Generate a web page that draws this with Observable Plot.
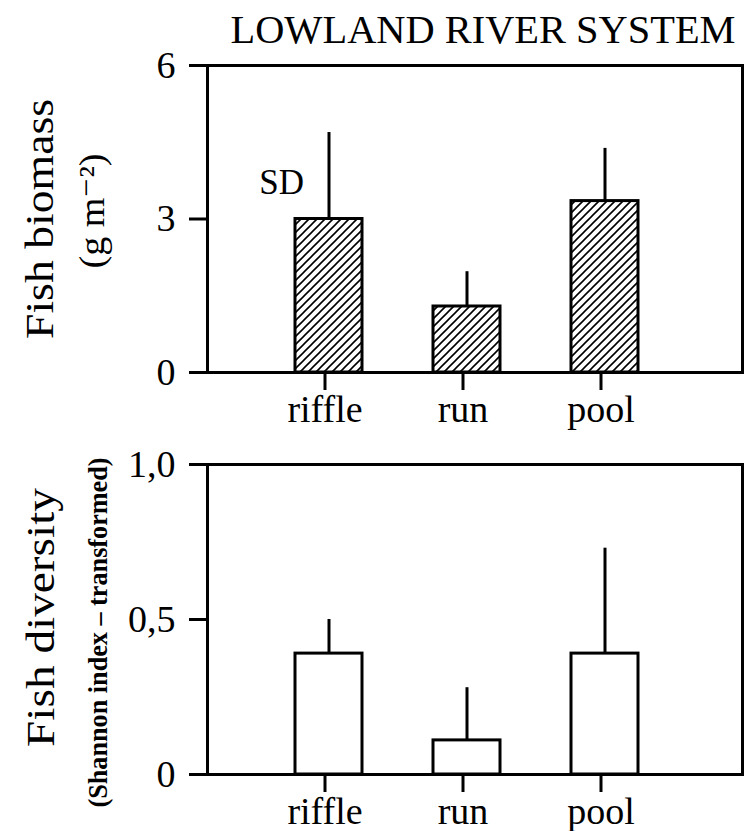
<!DOCTYPE html>
<html><head><meta charset="utf-8">
<script src="https://cdn.jsdelivr.net/npm/d3@7"></script>
<script src="https://cdn.jsdelivr.net/npm/@observablehq/plot@0.6"></script>
<style>
html,body{margin:0;padding:0;background:#fff;}
#chart{width:748px;height:831px;position:relative;overflow:hidden;}
#chart svg{display:block;overflow:visible;}
</style></head><body><div id="chart"></div>
<script>
const chartTitle = "LOWLAND RIVER SYSTEM";
const habitats = ["riffle", "run", "pool"];
const biomassMean = [3.0, 1.29, 3.35];
const biomassSD = [1.69, 0.68, 1.03];
const diversityMean = [0.39, 0.11, 0.39];
const diversitySD = [0.11, 0.17, 0.34];
const biomassTicks = [0, 3, 6];
const diversityTicks = [0, 0.5, 1];
const biomassLabel = "Fish biomass";
const biomassUnit = "(g m\u207B\u00B2)";
const diversityLabel = "Fish diversity";
const diversityUnit = "(Shannon index \u2013 transformed)";
const sdLabel = "SD";

const FONT = "'Liberation Serif', 'DejaVu Serif', serif";
const biomass = habitats.map((h, i) => ({habitat: h, mean: biomassMean[i], sd: biomassSD[i]}));
const diversity = habitats.map((h, i) => ({habitat: h, mean: diversityMean[i], sd: diversitySD[i]}));

const xScale = {type: "band", domain: habitats, range: [223, 710], padding: 0.516};

function panel({data, height, marginTop, marginBottom, domain, ticks, fmt, fill, extra}) {
  return Plot.plot({
    width: 748, height, marginTop, marginBottom, marginLeft: 207, marginRight: 6,
    style: {fontFamily: FONT, fontSize: "38px", color: "black", background: "white"},
    x: {...xScale, axis: null},
    y: {domain, axis: null},
    marks: [
      Plot.ruleX(data, {x: "habitat", y1: "mean", y2: d => d.mean + d.sd, stroke: "black", strokeWidth: 3}),
      Plot.barY(data, {x: "habitat", y: "mean", fill, stroke: "black", strokeWidth: 3}),
      Plot.frame({stroke: "black", strokeWidth: 3}),
      Plot.axisY({ticks, tickSize: 18, tickPadding: 14, strokeWidth: 3, tickFormat: fmt, label: null, fontSize: 38}),
      Plot.axisX({tickSize: 18, tickPadding: 5, strokeWidth: 3, label: null, fontSize: 38, dx: -4}),
      ...extra
    ]
  });
}

const topPanel = panel({
  data: biomass, height: 440, marginTop: 65, marginBottom: 68,
  domain: [0, 6], ticks: biomassTicks, fmt: d => String(d), fill: "url(#hatch)",
  extra: [
    Plot.text([chartTitle], {frameAnchor: "top-right", dx: -7, dy: -23, lineAnchor: "bottom", textAnchor: "end", fontSize: 40}),
    Plot.text([sdLabel], {x: () => "riffle", y: () => 3.7, dx: -25, textAnchor: "end", lineAnchor: "middle", fontSize: 35}),
    Plot.text([biomassLabel], {frameAnchor: "left", rotate: -90, dx: -155, dy: 0, textAnchor: "middle", lineAnchor: "bottom", fontSize: 40}),
    Plot.text([biomassUnit], {frameAnchor: "left", rotate: -90, dx: -104, dy: -8, textAnchor: "middle", lineAnchor: "bottom", fontSize: 35})
  ]
});

const bottomPanel = panel({
  data: diversity, height: 391, marginTop: 24, marginBottom: 57,
  domain: [0, 1], ticks: diversityTicks, fmt: d => d === 0 ? "0" : d.toFixed(1).replace(".", ","), fill: "white",
  extra: [
    Plot.text([diversityLabel], {frameAnchor: "left", rotate: -90, dx: -154, dy: -2, textAnchor: "middle", lineAnchor: "bottom", fontSize: 40}),
    Plot.text([diversityUnit], {frameAnchor: "left", rotate: -90, dx: -101, dy: 13, textAnchor: "middle", lineAnchor: "bottom", fontSize: 27, fontWeight: "bold"})
  ]
});

// hatch pattern definition
const defs = d3.create("svg:defs");
const pat = defs.append("pattern").attr("id", "hatch").attr("patternUnits", "userSpaceOnUse")
  .attr("width", 8).attr("height", 8);
pat.append("rect").attr("width", 8).attr("height", 8).attr("fill", "white");
pat.append("path").attr("d", "M-2,2 L2,-2 M0,8 L8,0 M6,10 L10,6").attr("stroke", "black").attr("stroke-width", 1.6);
topPanel.insertBefore(defs.node(), topPanel.firstChild);

// stretch some texts to match the reference lengths
const lengths = new Map([
  [chartTitle, 505], [biomassLabel, 240], [biomassUnit, 115],
  [diversityLabel, 259], [diversityUnit, 350]
]);
for (const svg of [topPanel, bottomPanel]) {
  d3.select(svg).selectAll("text").each(function() {
    const t = this.textContent;
    if (lengths.has(t)) {
      this.setAttribute("textLength", lengths.get(t));
      this.setAttribute("lengthAdjust", "spacingAndGlyphs");
    }
  });
}

document.getElementById("chart").append(topPanel, bottomPanel);
</script>
</body></html>
